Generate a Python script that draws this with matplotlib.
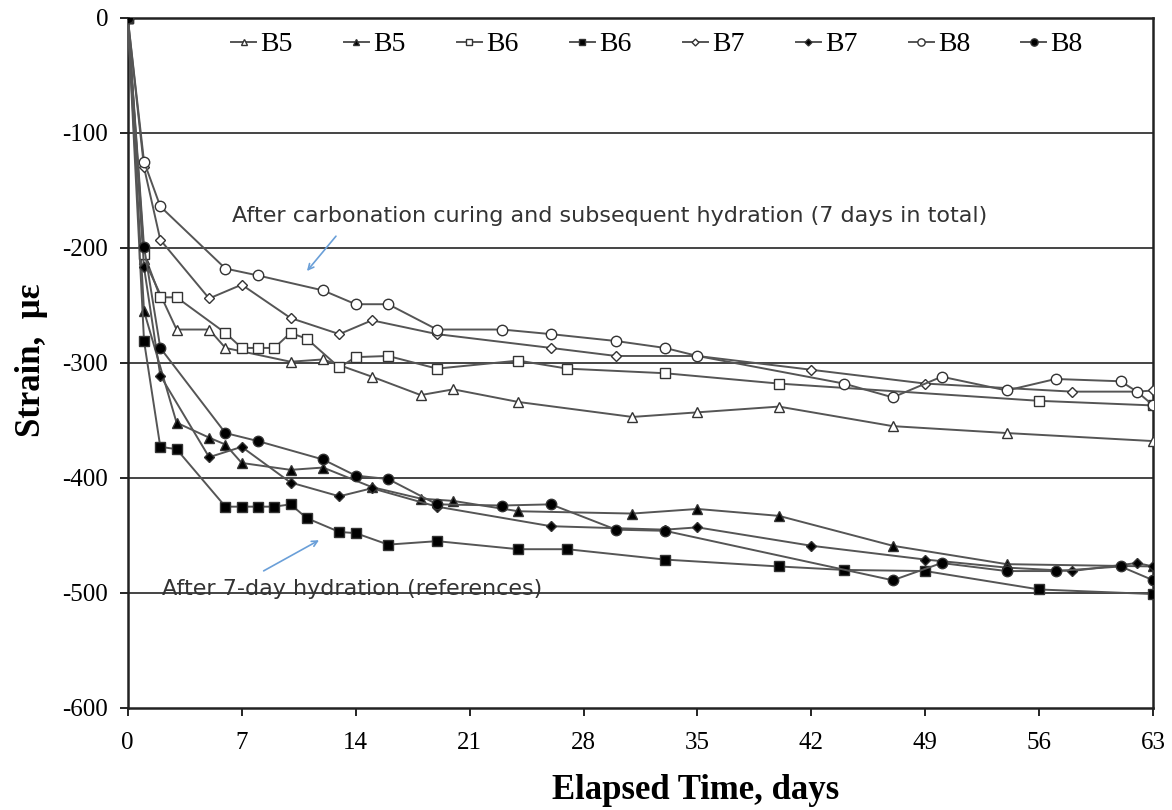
import matplotlib
matplotlib.use('Agg')
import matplotlib.pyplot as plt

plt.rcParams['axes.unicode_minus'] = False

# B5 - carbonation curing (open) / hydration reference (filled)
b5_c_x = [0, 1, 3, 5, 6, 10, 12, 15, 18, 20, 24, 31, 35, 40, 47, 54, 63]
b5_c_y = [0, -210, -271, -271, -287, -299, -297, -312, -328, -323, -334, -347, -343, -338, -355, -361, -368]
b5_h_x = [0, 1, 3, 5, 6, 7, 10, 12, 15, 18, 20, 24, 31, 35, 40, 47, 54, 63]
b5_h_y = [0, -255, -352, -365, -371, -387, -393, -391, -408, -418, -420, -429, -431, -427, -433, -459, -475, -477]

# B6
b6_c_x = [0, 1, 2, 3, 6, 7, 8, 9, 10, 11, 13, 14, 16, 19, 24, 27, 33, 40, 56, 63]
b6_c_y = [0, -205, -243, -243, -274, -287, -287, -287, -274, -279, -304, -295, -294, -305, -298, -305, -309, -318, -333, -337]
b6_h_x = [0, 1, 2, 3, 6, 7, 8, 9, 10, 11, 13, 14, 16, 19, 24, 27, 33, 40, 44, 49, 56, 63]
b6_h_y = [0, -281, -373, -375, -425, -425, -425, -425, -423, -435, -447, -448, -458, -455, -462, -462, -471, -477, -480, -481, -497, -501]

# B7
b7_c_x = [0, 1, 2, 5, 7, 10, 13, 15, 19, 26, 30, 35, 42, 49, 58, 62, 63]
b7_c_y = [0, -130, -193, -244, -232, -261, -275, -263, -275, -287, -294, -294, -306, -318, -325, -325, -324]
b7_h_x = [0, 1, 2, 5, 7, 10, 13, 15, 19, 26, 33, 35, 42, 49, 54, 58, 62, 63]
b7_h_y = [0, -217, -311, -382, -373, -404, -416, -409, -425, -442, -445, -443, -459, -471, -478, -481, -474, -477]

# B8
b8_c_x = [0, 1, 2, 6, 8, 12, 14, 16, 19, 23, 26, 30, 33, 35, 44, 47, 50, 54, 57, 61, 62, 63]
b8_c_y = [0, -125, -164, -218, -224, -237, -249, -249, -271, -271, -275, -281, -287, -294, -318, -330, -312, -324, -314, -316, -325, -337]
b8_h_x = [0, 1, 2, 6, 8, 12, 14, 16, 19, 23, 26, 30, 33, 47, 50, 54, 57, 61, 63]
b8_h_y = [0, -199, -287, -361, -368, -384, -398, -401, -423, -424, -423, -445, -446, -489, -474, -481, -481, -477, -489]

x_ticks = [0, 7, 14, 21, 28, 35, 42, 49, 56, 63]
y_ticks = [0, -100, -200, -300, -400, -500, -600]

series = [
    (b5_c_x, b5_c_y, '^', 'white', 7, 'B5'),
    (b5_h_x, b5_h_y, '^', 'black', 7, 'B5'),
    (b6_c_x, b6_c_y, 's', 'white', 7, 'B6'),
    (b6_h_x, b6_h_y, 's', 'black', 7, 'B6'),
    (b7_c_x, b7_c_y, 'D', 'white', 5, 'B7'),
    (b7_h_x, b7_h_y, 'D', 'black', 5, 'B7'),
    (b8_c_x, b8_c_y, 'o', 'white', 7.5, 'B8'),
    (b8_h_x, b8_h_y, 'o', 'black', 7.5, 'B8'),
]

fig = plt.figure(figsize=(11.72, 8.10), dpi=100)
ax = fig.add_axes([0.109, 0.126, 0.875, 0.852])

for yt in y_ticks[1:-1]:
    ax.axhline(yt, color='#444444', lw=1.4, zorder=1)

for xs, ys, m, fc, ms, lab in series:
    ax.plot(xs, ys, color='#555555', lw=1.4, marker=m, ms=ms,
            mfc=fc, mec='#333333', mew=1.0, label=lab, zorder=3)

ax.set_xlim(0, 63)
ax.set_ylim(-600, 0)
ax.set_xticks(x_ticks)
ax.set_yticks(y_ticks)
ax.tick_params(axis='both', labelsize=18, direction='out', length=6, width=1.2)
for lbl in ax.get_xticklabels() + ax.get_yticklabels():
    lbl.set_family('Liberation Serif')
ax.tick_params(axis='x', pad=11)
ax.tick_params(axis='y', pad=8)
for sp in ax.spines.values():
    sp.set_linewidth(1.8)
    sp.set_color('#222222')

ax.set_xlabel('Elapsed Time, days', fontsize=25, fontweight='bold', family='Liberation Serif', labelpad=12)
ax.xaxis.set_label_coords(0.554, -0.095)
ax.set_ylabel('Strain,  \u03bc\u03b5', fontsize=25, fontweight='bold', family='Liberation Serif')
ax.yaxis.set_label_coords(-0.078, 0.504)

leg = ax.legend(ncol=8, loc='center', bbox_to_anchor=(0.516, 0.961), frameon=False,
                prop={'family': 'Liberation Serif', 'size': 20}, handlelength=0.9,
                handletextpad=0.15, columnspacing=1.85, markerscale=0.7)

ax.text(6.4, -172, 'After carbonation curing and subsequent hydration (7 days in total)',
        fontsize=16, family='DejaVu Sans', color='#333333', va='center', ha='left')
ax.annotate('', xy=(10.9, -222), xytext=(12.9, -188),
            arrowprops=dict(arrowstyle='->', color='#6a9fd8', lw=1.2))
ax.text(2.1, -497, 'After 7-day hydration (references)',
        fontsize=16, family='DejaVu Sans', color='#333333', va='center', ha='left')
ax.annotate('', xy=(11.9, -453), xytext=(8.2, -482),
            arrowprops=dict(arrowstyle='->', color='#6a9fd8', lw=1.2))

fig.savefig('out.png', dpi=100)
